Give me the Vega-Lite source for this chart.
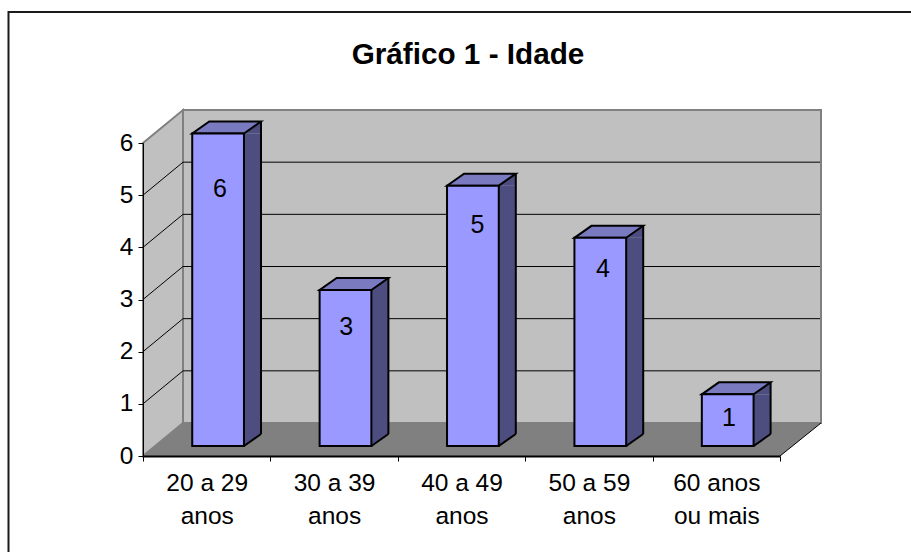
{"$schema":"https://vega.github.io/schema/vega-lite/v6.json","width":637,"height":313,"autosize":"none","padding":{"left":143,"top":143,"right":131,"bottom":96},"background":"white","title":{"text":"Gráfico 1 - Idade","font":"Liberation Sans","fontSize":29.7,"fontWeight":"bold","color":"#000000","anchor":"middle","dx":6.5,"offset":-63},"config":{"view":{"stroke":null},"text":{"font":"Liberation Sans"}},"data":{"values":[{"faixa":"20 a 29\nanos","valor":6},{"faixa":"30 a 39\nanos","valor":3},{"faixa":"40 a 49\nanos","valor":5},{"faixa":"50 a 59\nanos","valor":4},{"faixa":"60 anos\nou mais","valor":1}]},"encoding":{"x":{"field":"faixa","type":"nominal","sort":null,"scale":{"paddingInner":0,"paddingOuter":0},"axis":{"title":null,"labelAngle":0,"labelFont":"Liberation Sans","labelFontSize":24.5,"labelColor":"#000000","labelLineHeight":33,"labelPadding":10,"labelExpr":"split(datum.label,'\\n')","tickBand":"extent","tickSize":5,"tickColor":"#000000","domainColor":"#000000","domainWidth":2,"tickWidth":1,"zindex":1,"labelOverlap":false,"labelLimit":0}},"y":{"field":"valor","type":"quantitative","scale":{"domain":[0,6],"nice":false,"zero":true},"axis":{"title":null,"values":[0,1,2,3,4,5,6],"grid":false,"labelFont":"Liberation Sans","labelFontSize":24.5,"labelColor":"#000000","labelPadding":5,"tickSize":5,"tickColor":"#000000","domainColor":"#000000","domainWidth":1,"zindex":1}}},"layer":[{"data":{"values":[{"faixa":"20 a 29\nanos","valor":0}]},"mark":{"type":"point","shape":"M-198.2 96 L-198.2 -444 L705 -444","filled":false,"stroke":"#1a1a1a","strokeWidth":2,"size":4,"opacity":1}},{"data":{"values":[{"faixa":"20 a 29\nanos","valor":0}]},"mark":{"type":"point","shape":"M-23.7 -33 L614.3 -33 L614.3 -346 L-23.7 -346 Z","filled":true,"fill":"#c0c0c0","stroke":"#808080","strokeWidth":2,"size":4,"opacity":1}},{"data":{"values":[{"faixa":"20 a 29\nanos","valor":0}]},"mark":{"type":"point","shape":"M-63.7 0 L-23.7 -33 L-23.7 -346 L-63.7 -313 Z","filled":true,"fill":"#c0c0c0","stroke":"#808080","strokeWidth":2,"size":4,"opacity":1}},{"data":{"values":[{"faixa":"20 a 29\nanos","valor":0}]},"mark":{"type":"point","shape":"M-63.7 0 L-23.7 -33 L614.3 -33 L573.3 0 Z","filled":true,"fill":"#808080","size":4,"opacity":1}},{"data":{"values":[{"faixa":"20 a 29\nanos","valor":0}]},"mark":{"type":"point","shape":"M573.3 0 L614.3 -33","filled":false,"stroke":"#000000","strokeWidth":1,"size":4,"opacity":1}},{"data":{"values":[{"faixa":"20 a 29\nanos","valor":1},{"faixa":"20 a 29\nanos","valor":2},{"faixa":"20 a 29\nanos","valor":3},{"faixa":"20 a 29\nanos","valor":4},{"faixa":"20 a 29\nanos","valor":5}]},"mark":{"type":"point","shape":"M-63.7 0 L-23.7 -33 L613.3 -33","filled":false,"stroke":"#000000","strokeWidth":1,"size":4,"opacity":1}},{"mark":{"type":"bar","width":17,"xOffset":45.8,"yOffset":-9.5,"y2Offset":-22,"fill":"#4d4d80"},"encoding":{"y2":{"datum":0}}},{"mark":{"type":"point","shape":"M37.3 -9.5 L54.3 -21.5 L54.3 -9.5 Z","filled":true,"fill":"#4d4d80","size":4,"opacity":1}},{"encoding":{"y":{"datum":0}},"mark":{"type":"point","shape":"M37.3 -10 L54.3 -22 L37.3 -22 Z","filled":true,"fill":"#4d4d80","size":4,"opacity":1}},{"mark":{"type":"rule","xOffset":54.3,"yOffset":-21.5,"y2Offset":-22,"stroke":"#000000","strokeWidth":2},"encoding":{"y2":{"datum":0}}},{"encoding":{"y":{"datum":0}},"mark":{"type":"point","shape":"M37.3 -10 L54.3 -22","filled":false,"stroke":"#000000","strokeWidth":2,"size":4,"opacity":1}},{"mark":{"type":"point","shape":"M-14.45 -9.5 L37.3 -9.5 L54.3 -21.5 L2.55 -21.5 Z","filled":true,"fill":"#7a7ac0","stroke":"#000000","strokeWidth":2,"size":4,"opacity":1}},{"mark":{"type":"bar","width":51.75,"xOffset":11.4,"yOffset":-9.5,"y2Offset":-10,"fill":"#9999ff","stroke":"#000000","strokeWidth":2},"encoding":{"y2":{"datum":0}}},{"transform":[{"filter":"datum.valor==6"}],"mark":{"type":"text","fontSize":25,"dx":13.3,"dy":46,"color":"#000000"},"encoding":{"text":{"field":"valor","type":"quantitative"}}},{"transform":[{"filter":"datum.valor==3"}],"mark":{"type":"text","fontSize":25,"dx":12,"dy":27,"color":"#000000"},"encoding":{"text":{"field":"valor","type":"quantitative"}}},{"transform":[{"filter":"datum.valor==5"}],"mark":{"type":"text","fontSize":25,"dx":16,"dy":30,"color":"#000000"},"encoding":{"text":{"field":"valor","type":"quantitative"}}},{"transform":[{"filter":"datum.valor==4"}],"mark":{"type":"text","fontSize":25,"dx":14,"dy":22,"color":"#000000"},"encoding":{"text":{"field":"valor","type":"quantitative"}}},{"transform":[{"filter":"datum.valor==1"}],"mark":{"type":"text","fontSize":25,"dx":12.7,"dy":14,"color":"#000000"},"encoding":{"text":{"field":"valor","type":"quantitative"}}}]}
